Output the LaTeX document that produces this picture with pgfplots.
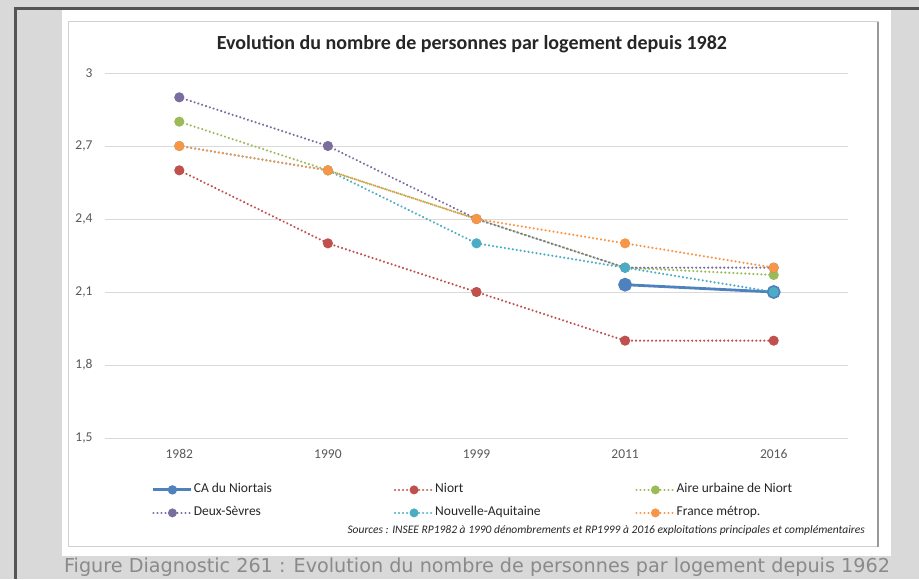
\documentclass[border=0pt]{standalone}
\usepackage{pgfplots}
\pgfplotsset{compat=1.18}
\usepackage{fontspec}
\setmainfont{Carlito}
\newfontfamily\capfont{DejaVu Sans}
\definecolor{bgG}{HTML}{D9D9D9}
\definecolor{darkB}{HTML}{555555}
\definecolor{frameC}{HTML}{D0D0D0}
\definecolor{gridC}{HTML}{D9D9D9}
\definecolor{txtC}{HTML}{595959}
\definecolor{capC}{HTML}{8A8A8A}
\definecolor{cBlue}{HTML}{4F81BD}
\definecolor{cRed}{HTML}{C0504D}
\definecolor{cGreen}{HTML}{9BBB59}
\definecolor{cPurple}{HTML}{7A6E9E}
\definecolor{cCyan}{HTML}{4BACC6}
\definecolor{cOrange}{HTML}{F79646}
\begin{document}
\begin{tikzpicture}[x=1pt,y=1pt]
\fill[bgG] (0,0) rectangle (919,579);
\fill[darkB] (14,0) rectangle (17,572);
\fill[darkB] (14,569) rectangle (919,572);
\fill[white] (62,23) rectangle (891,569);
\draw[frameC, line width=1pt] (68,32) rectangle (878,557);
\draw[black!40, line width=1.5pt] (878,32) -- (878,557);
\node[font=\bfseries\fontsize{20}{24}\selectfont, text=black!85] at (472,535) {Evolution du nombre de personnes par logement depuis 1982};
\node[font=\capfont\fontsize{19.2}{22}\selectfont, text=capC] at (477,12) {Figure Diagnostic 261 : Evolution du nombre de personnes par logement depuis 1962};
\node[anchor=east, font=\itshape\fontsize{11.5}{13}\selectfont, text=black!85, inner sep=0pt] at (865,49) {Sources : INSEE RP1982 à 1990 dénombrements et RP1999 à 2016 exploitations principales et complémentaires};
\begin{axis}[
  at={(105pt,141pt)}, anchor=south west,
  scale only axis, width=743pt, height=365pt,
  xmin=-0.5, xmax=4.5, ymin=1.5, ymax=3,
  axis line style={draw=none},
  ymajorgrids, grid style={gridC, line width=0.9pt},
  ytick={1.5,1.8,2.1,2.4,2.7,3},
  xtick={0,1,2,3,4},
  xticklabels={1982,1990,1999,2011,2016},
  major tick length=0pt,
  /pgf/number format/.cd, use comma, fixed, assume math mode=true, /pgfplots/.cd,
  yticklabel style={font=\fontsize{13.5}{15}\selectfont, text=txtC, xshift=-9pt},
  xticklabel style={font=\fontsize{13.5}{15}\selectfont, text=txtC, yshift=-8pt},
  clip=false,
  legend columns=3,
  legend cell align=left,
  legend style={draw=none, fill=none, at={(0.0633,-0.123)}, anchor=north west,
    inner sep=0pt, outer sep=0pt,
    font=\fontsize{13.5}{15}\selectfont, text=black!85,
    row sep=9pt, column sep=0pt,
    nodes={inner sep=1pt, text height=9pt, text depth=3pt}},
  legend image code/.code={\draw[mark repeat=2,mark phase=2,#1,mark size=3.2pt] plot coordinates {(0pt,0pt) (19pt,0pt) (38pt,0pt)};},
  dotted line/.style={line width=2.4pt, line cap=round, dash pattern=on 0.01pt off 4pt, mark=*, mark size=3.8pt, mark options={solid}},
]
\addplot[cBlue, line width=2.8pt, mark=*, mark size=5.5pt] coordinates {(3,2.13) (4,2.10)};
\addlegendentry{\makebox[199pt][l]{CA du Niortais}}
\addplot[cRed, dotted line] coordinates {(0,2.6) (1,2.3) (2,2.1) (3,1.9) (4,1.9)};
\addlegendentry{\makebox[199pt][l]{Niort}}
\addplot[cGreen, dotted line] coordinates {(0,2.8) (1,2.6) (2,2.4) (3,2.2) (4,2.17)};
\addlegendentry{Aire urbaine de Niort}
\addplot[cPurple, dotted line] coordinates {(0,2.9) (1,2.7) (2,2.4) (3,2.2) (4,2.2)};
\addlegendentry{Deux-Sèvres}
\addplot[cCyan, dotted line] coordinates {(0,2.7) (1,2.6) (2,2.3) (3,2.2) (4,2.1)};
\addlegendentry{Nouvelle-Aquitaine}
\addplot[cOrange, dotted line] coordinates {(0,2.7) (1,2.6) (2,2.4) (3,2.3) (4,2.2)};
\addlegendentry{France métrop.}
\end{axis}
\end{tikzpicture}
\end{document}
